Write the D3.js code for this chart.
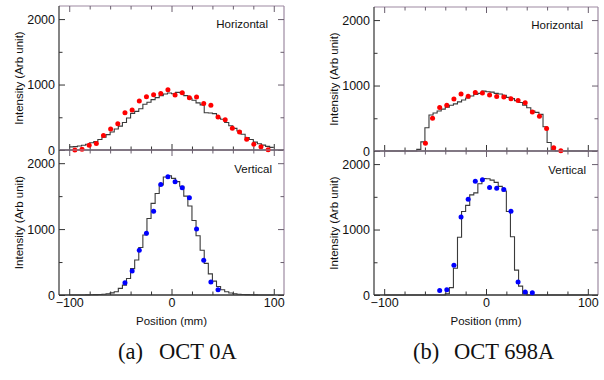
<!DOCTYPE html>
<html>
<head>
<meta charset="utf-8">
<script src="https://cdn.jsdelivr.net/npm/d3@7"></script>
<style>
body { margin: 0; background: #fff; }
svg { display: block; font-family: "Liberation Sans", Arial, sans-serif; }
</style>
</head>
<body>
<svg width="604" height="380"></svg>
<script>
// histogram bins: left edges, 4 mm wide, -100 .. 100 mm
var binEdges = d3.range(-100, 100, 4);
var binWidth = 4;

// OCT 0A, horizontal profile (step line)
var histH0 = [48,52,60,72,88,110,130,160,195,235,275,320,365,420,490,560,590,630,700,730,
              770,800,830,855,870,860,880,875,830,790,760,720,690,570,565,555,490,470,420,370,
              330,290,240,190,160,120,95,75,55,40];
// OCT 0A, vertical profile
var histV0 = [0,0,0,0,2,3,5,8,12,20,32,50,100,150,250,400,530,720,910,1160,
              1390,1540,1670,1790,1810,1770,1720,1650,1500,1350,1130,900,680,480,320,210,130,80,50,30,
              20,12,8,5,3,2,0,0,0,0];
// OCT 698A, horizontal profile
var histH698 = [0,0,0,0,0,0,0,0,25,140,356,550,580,610,640,670,700,720,750,780,
                810,840,865,880,915,905,900,880,870,850,820,800,770,740,700,660,610,590,560,370,
                130,15,0,0,0,0,0,0,0,0];
// OCT 698A, vertical profile
var histV698 = [0,0,0,0,0,0,0,0,0,0,0,0,0,0,0,20,112,408,883,1275,
                1370,1530,1560,1700,1780,1775,1755,1720,1660,1590,1275,890,380,135,15,0,0,0,0,0,
                0,0,0,0,0,0,0,0,0,0];

// measured points
var dotPosH0 = [-94.5,-87.5,-80.5,-73.5,-66.5,-59.5,-52.5,-45.5,-38.5,-31.5,-24.5,-17.5,-10.5,-3.5,
                3.5,10.5,17.5,24.5,31.5,38.5,45.5,52.5,59.5,66.5,73.5,80.5,87.5,94.5];
var dotH0 = [0,10,72,100,220,320,400,570,610,750,815,845,865,920,
             840,875,800,810,712,682,504,463,331,275,163,87,50,5];

var dotPosV0 = [-45.5,-38.5,-31.5,-24.5,-17.5,-10.5,-3.5,3.5,10.5,17.5,24.5,31.5,38.5,45.5];
var dotV0 = [185,366,680,937,1270,1677,1795,1717,1626,1475,1000,528,197,80];

var dotPosH698 = [-59.5,-52.5,-45.5,-38.5,-31.5,-24.5,-17.5,-10.5,-3.5,3.5,
                  10.5,17.5,24.5,31.5,38.5,45.5,52.5,59.5,66.5,73.5];
var dotH698 = [117,499,664,700,794,872,838,893,885,855,832,825,797,770,738,595,529,343,51,5];

var dotPosV698 = [-45.5,-38.5,-31.5,-24.5,-17.5,-10.5,-3.5,3.5,10.5,17.5,24.5,31.5,38.5,45.5];
var dotV698 = [69,79,454,1192,1462,1738,1760,1643,1630,1610,1278,199,46,36];

var xMajor = [-100, 0, 100];
var xMinor = [-80, -60, -40, -20, 20, 40, 60, 80];
var yMajor = [0, 1000, 2000];
var yMinor = [500, 1500];

var frameColor = '#9d8aa2';
var inkColor = '#333';

var svg = d3.select('svg');

var panels = [
    {left: 59, right: 284, bottom: 150, top: 6, hist: histH0, dx: dotPosH0, dy: dotH0,
     color: 'red', name: 'Horizontal', nameDx: 16, nameY: 28, bottomLabels: false},
    {left: 59, right: 284, bottom: 295, top: 150, hist: histV0, dx: dotPosV0, dy: dotV0,
     color: 'blue', name: 'Vertical', nameDx: 12, nameY: 173, bottomLabels: true},
    {left: 374, right: 598, bottom: 151, top: 7, hist: histH698, dx: dotPosH698, dy: dotH698,
     color: 'red', name: 'Horizontal', nameDx: 15, nameY: 29, bottomLabels: false},
    {left: 374, right: 598, bottom: 295, top: 151, hist: histV698, dx: dotPosV698, dy: dotV698,
     color: 'blue', name: 'Vertical', nameDx: 12, nameY: 174, bottomLabels: true}
];

panels.forEach(drawPanel);

function drawPanel(p) {
    var x = d3.scaleLinear().domain([-110, 110]).range([p.left, p.right]);
    var y = d3.scaleLinear().domain([0, 2200]).range([p.bottom, p.top]);
    var g = svg.append('g');

    // frame: top and right in light mauve
    g.append('line').attr('x1', p.left).attr('x2', p.right).attr('y1', p.top).attr('y2', p.top)
        .attr('stroke', frameColor).attr('stroke-width', 1.2);
    g.append('line').attr('x1', p.right).attr('x2', p.right).attr('y1', p.top).attr('y2', p.bottom)
        .attr('stroke', frameColor).attr('stroke-width', 1.2);

    // ticks (inward)
    addAxis(g, d3.axisLeft(y).tickValues(yMinor).tickSize(-3.5).tickFormat(''), 'translate(' + p.left + ',0)', inkColor);
    addAxis(g, d3.axisLeft(y).tickValues(yMajor).tickSize(-6).tickPadding(4).tickFormat(d3.format('d')), 'translate(' + p.left + ',0)', inkColor);
    addAxis(g, d3.axisRight(y).tickValues(yMinor).tickSize(-3.5).tickFormat(''), 'translate(' + p.right + ',0)', '#6a5f6e');
    addAxis(g, d3.axisRight(y).tickValues(yMajor).tickSize(-6).tickFormat(''), 'translate(' + p.right + ',0)', '#6a5f6e');
    addAxis(g, d3.axisTop(x).tickValues(xMinor).tickSize(-3.5).tickFormat(''), 'translate(0,' + p.top + ')', '#6a5f6e');
    addAxis(g, d3.axisTop(x).tickValues(xMajor).tickSize(-6).tickFormat(''), 'translate(0,' + p.top + ')', '#6a5f6e');
    addAxis(g, d3.axisBottom(x).tickValues(xMinor).tickSize(-3.5).tickFormat(''), 'translate(0,' + p.bottom + ')', inkColor);
    var xb = d3.axisBottom(x).tickValues(xMajor).tickSize(-6).tickPadding(3);
    if (!p.bottomLabels) xb.tickFormat('');
    addAxis(g, xb, 'translate(0,' + p.bottom + ')', inkColor);

    // left and bottom axis lines
    g.append('line').attr('x1', p.left).attr('x2', p.left).attr('y1', p.top).attr('y2', p.bottom)
        .attr('stroke', inkColor).attr('stroke-width', 1.2);
    g.append('line').attr('x1', p.left).attr('x2', p.right).attr('y1', p.bottom).attr('y2', p.bottom)
        .attr('stroke', inkColor).attr('stroke-width', 1.3);

    // histogram step line
    var steps = binEdges.map(function(e, i) { return [e, p.hist[i]]; });
    steps.push([binEdges[binEdges.length - 1] + binWidth, p.hist[p.hist.length - 1]]);
    var line = d3.line()
        .x(function(d) { return x(d[0]); })
        .y(function(d) { return y(d[1]); })
        .curve(d3.curveStepAfter);
    g.append('path').datum(steps)
        .attr('d', line)
        .attr('fill', 'none')
        .attr('stroke', '#3a3a3a')
        .attr('stroke-width', 1.1);

    // measured points
    g.selectAll('.pt')
        .data(p.dx)
        .enter()
        .append('circle')
        .attr('class', 'pt')
        .attr('cx', function(d) { return x(d); })
        .attr('cy', function(d, i) { return y(p.dy[i]); })
        .attr('r', 2.5)
        .attr('fill', p.color);

    g.append('text')
        .attr('x', p.right - p.nameDx).attr('y', p.nameY)
        .attr('text-anchor', 'end')
        .attr('font-size', 11.5)
        .attr('fill', '#111')
        .text(p.name);

    // y title
    var cy = (p.top + p.bottom) / 2;
    var tx = p.left - 36;
    g.append('text')
        .attr('transform', 'translate(' + tx + ',' + cy + ') rotate(-90)')
        .attr('text-anchor', 'middle')
        .attr('font-size', 11.5)
        .attr('fill', '#111')
        .text('Intensity (Arb unit)');

    if (p.bottomLabels) {
        g.append('text')
            .attr('x', x(0)).attr('y', 325)
            .attr('text-anchor', 'middle')
            .attr('font-size', 11.5)
            .attr('fill', '#111')
            .text('Position (mm)');
    }
}

function addAxis(g, axis, transform, color) {
    var a = g.append('g').attr('transform', transform).call(axis);
    a.select('.domain').remove();
    a.selectAll('line').attr('stroke', color);
    a.selectAll('text').attr('font-size', 12.5).attr('fill', '#111')
        .attr('font-family', '"Liberation Sans", Arial, sans-serif');
}

// captions
var captions = [{tag: '(a)', name: 'OCT 0A', x: 118}, {tag: '(b)', name: 'OCT 698A', x: 413}];
captions.forEach(function(c) {
    var t = svg.append('text')
        .attr('y', 359)
        .attr('font-family', '"Liberation Serif", "Times New Roman", serif')
        .attr('font-size', 22.5)
        .attr('fill', '#111');
    t.append('tspan').attr('x', c.x).text(c.tag);
    t.append('tspan').attr('x', c.x + 41).text(c.name);
});
</script>
</body>
</html>
